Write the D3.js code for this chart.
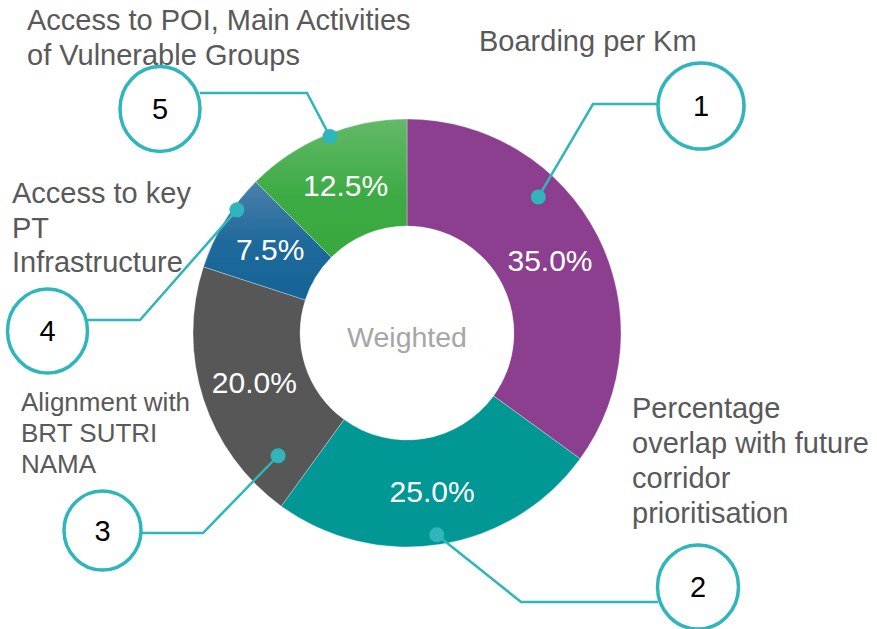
<!DOCTYPE html>
<html><head><meta charset="utf-8">
<script src="https://cdn.jsdelivr.net/npm/d3@7"></script>
<style>html,body{margin:0;padding:0;background:#fff;}svg{display:block;font-family:"Liberation Sans",Arial,sans-serif;}</style>
</head><body>
<svg id="chart" width="877" height="629"></svg>
<script>
// ---- data ----
const categories = ["Boarding per Km", "Percentage overlap with future corridor prioritisation", "Alignment with BRT SUTRI NAMA", "Access to key PT Infrastructure", "Access to POI, Main Activities of Vulnerable Groups"];
const weights = [35.0, 25.0, 20.0, 7.5, 12.5];
const callNumbers = ["1", "2", "3", "4", "5"];
const centerLabel = "Weighted";
const colors = ["#8c3f8e", "#009794", "#575757", "url(#gBlue)", "url(#gGreen)"];

// ---- layout (annotation placement) ----
const cx = 407, cy = 333, rOuter = 214, rInner = 107;
const labelLines = [
  {lines:["Boarding per Km"], x:479, y:51, size:29, lh:35},
  {lines:["Percentage","overlap with future","corridor","prioritisation"], x:632, y:418, size:29, lh:35},
  {lines:["Alignment with","BRT SUTRI","NAMA"], x:21, y:411, size:26, lh:31},
  {lines:["Access to key","PT","Infrastructure"], x:12, y:203, size:29, lh:34.5},
  {lines:["Access to POI, Main Activities","of Vulnerable Groups"], x:27, y:30, size:29, lh:35}
];
// dot: angle (deg clockwise from top) and radius; path via elbow to circle
const callouts = [
  {ang:44, rad:189, elbow:[593,104], end:[657,104], c:[701,106], rx:43, ry:43},
  {ang:171.6, rad:204, elbow:[521,602], end:[658,602], c:[698,587], rx:40.5, ry:42},
  {ang:226.4, rad:178, elbow:[203,533], end:[141,533], c:[102.5,530.5], rx:38.5, ry:39.5},
  {ang:305.9, rad:210, elbow:[140,320], end:[87,320], c:[47.5,331], rx:40, ry:42},
  {ang:338.6, rad:211, elbow:[307,93], end:[200,93], c:[160,109], rx:40, ry:42.5}
];

const svg = d3.select("#chart");
const defs = svg.append("defs");
const gG = defs.append("linearGradient").attr("id","gGreen").attr("x1",0).attr("y1",0).attr("x2",0).attr("y2",1);
gG.append("stop").attr("offset","0%").attr("stop-color","#63b968");
gG.append("stop").attr("offset","55%").attr("stop-color","#3dab44");
gG.append("stop").attr("offset","100%").attr("stop-color","#37a83d");
const gB = defs.append("linearGradient").attr("id","gBlue").attr("x1",0).attr("y1",0).attr("x2",0).attr("y2",1);
gB.append("stop").attr("offset","0%").attr("stop-color","#4c80ab");
gB.append("stop").attr("offset","50%").attr("stop-color","#1f6a9c");
gB.append("stop").attr("offset","100%").attr("stop-color","#156497");

const pie = d3.pie().sort(null).value(d => d)(weights);
const arc = d3.arc().innerRadius(rInner).outerRadius(rOuter);
const g = svg.append("g").attr("transform", `translate(${cx},${cy})`);
g.selectAll("path.slice").data(pie).join("path").attr("class","slice")
  .attr("d", arc).attr("fill", (d,i) => colors[i])
  .attr("stroke","#ffffff").attr("stroke-opacity",0.5).attr("stroke-width",0.6);

g.selectAll("text.pct").data(pie).join("text").attr("class","pct")
  .attr("transform", d => `translate(${arc.centroid(d)})`)
  .attr("text-anchor","middle").attr("dy","0.36em")
  .attr("fill","#ffffff").attr("font-size",30)
  .text(d => d3.format(".1f")(d.data) + "%");

g.append("text").attr("text-anchor","middle").attr("y",13.5)
  .attr("fill","#a6a6a6").attr("font-size",28.5).text(centerLabel);

// category labels
labelLines.forEach(L => {
  const t = svg.append("text").attr("x", L.x).attr("y", L.y).attr("fill","#595959").attr("font-size", L.size);
  L.lines.forEach((ln, j) => t.append("tspan").attr("x", L.x).attr("y", L.y + j*L.lh).text(ln));
});

// callouts
const teal = "#30b5bb";
callouts.forEach((c, i) => {
  const a = c.ang * Math.PI / 180;
  const dx = cx + c.rad * Math.sin(a), dy = cy - c.rad * Math.cos(a);
  svg.append("path").attr("d", d3.line()([[dx,dy], c.elbow, c.end]))
    .attr("fill","none").attr("stroke", teal).attr("stroke-width", 2.5);
  svg.append("circle").attr("cx", dx).attr("cy", dy).attr("r", 7.5).attr("fill", teal);
  svg.append("ellipse").attr("cx", c.c[0]).attr("cy", c.c[1]).attr("rx", c.rx).attr("ry", c.ry)
    .attr("fill","#ffffff").attr("stroke", teal).attr("stroke-width", 3.5);
  svg.append("text").attr("x", c.c[0]).attr("y", c.c[1]).attr("dy","0.36em")
    .attr("text-anchor","middle").attr("fill","#000").attr("font-size",29).text(callNumbers[i]);
});
</script>
</body></html>
